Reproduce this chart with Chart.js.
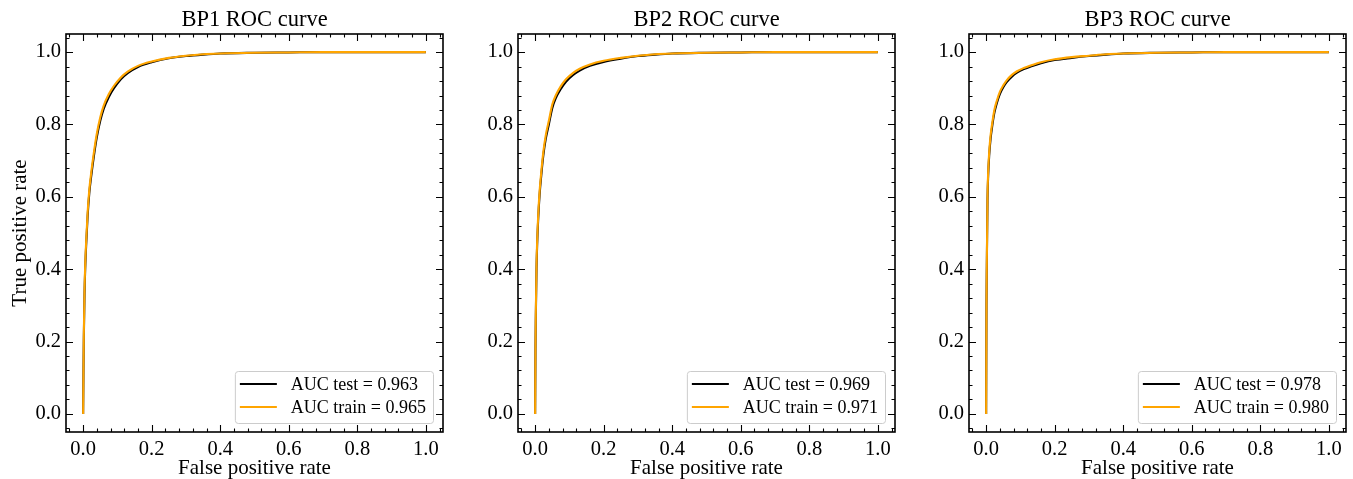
<!DOCTYPE html>
<html>
<head>
    <meta charset="UTF-8">
    <title>BP ROC curves</title>
    <script src="https://cdn.jsdelivr.net/npm/chart.js"></script>
    <style>
        html, body { margin: 0; padding: 0; background: #fff; overflow: hidden; }
        .panel { position: absolute; top: 0; width: 451px; height: 479px; }
    </style>
</head>
<body>
    <div class="panel" style="left:0px"><canvas id="bp1" width="451" height="479"></canvas></div>
    <div class="panel" style="left:452px"><canvas id="bp2" width="451" height="479"></canvas></div>
    <div class="panel" style="left:903px"><canvas id="bp3" width="451" height="479"></canvas></div>

    <script>
        const fpr = [0, 0.001, 0.002, 0.004, 0.006, 0.009, 0.013, 0.018, 0.024, 0.031, 0.04, 0.05, 0.06,
                     0.075, 0.09, 0.11, 0.13, 0.16, 0.2, 0.25, 0.3, 0.35, 0.4, 0.5, 0.6, 0.7, 0.8, 0.9, 1.0];

        // true positive rates
        const bp1Test  = [0, 0.12, 0.21, 0.33, 0.40, 0.47, 0.545, 0.61, 0.66, 0.71, 0.765, 0.81, 0.843,
                          0.876, 0.90, 0.925, 0.942, 0.959, 0.972, 0.983, 0.989, 0.993, 0.996, 0.998, 0.999, 1, 1, 1, 1];
        const bp1Train = [0, 0.12, 0.22, 0.34, 0.41, 0.48, 0.555, 0.62, 0.67, 0.72, 0.775, 0.82, 0.852,
                          0.884, 0.907, 0.93, 0.946, 0.962, 0.974, 0.984, 0.99, 0.994, 0.996, 0.998, 0.999, 1, 1, 1, 1];
        const bp2Test  = [0, 0.18, 0.27, 0.40, 0.47, 0.54, 0.605, 0.66, 0.715, 0.76, 0.80, 0.845, 0.872,
                          0.898, 0.918, 0.936, 0.949, 0.962, 0.973, 0.982, 0.989, 0.993, 0.996, 0.998, 0.999, 1, 1, 1, 1];
        const bp2Train = [0, 0.18, 0.28, 0.41, 0.48, 0.55, 0.615, 0.67, 0.725, 0.77, 0.81, 0.855, 0.88,
                          0.906, 0.925, 0.942, 0.954, 0.966, 0.976, 0.984, 0.99, 0.994, 0.996, 0.998, 0.999, 1, 1, 1, 1];
        const bp3Test  = [0, 0.30, 0.41, 0.59, 0.66, 0.715, 0.76, 0.797, 0.832, 0.858, 0.884, 0.903, 0.917,
                          0.932, 0.943, 0.953, 0.960, 0.969, 0.978, 0.984, 0.989, 0.993, 0.996, 0.998, 0.999, 1, 1, 1, 1];
        const bp3Train = [0, 0.30, 0.42, 0.60, 0.67, 0.725, 0.77, 0.805, 0.84, 0.865, 0.89, 0.908, 0.922,
                          0.937, 0.947, 0.956, 0.963, 0.972, 0.98, 0.986, 0.99, 0.994, 0.996, 0.998, 0.999, 1, 1, 1, 1];

        const panelTitles = ["BP1 ROC curve", "BP2 ROC curve", "BP3 ROC curve"];
        const aucTest  = ["0.963", "0.969", "0.978"];
        const aucTrain = ["0.965", "0.971", "0.980"];
        const tickValues = [0, 0.2, 0.4, 0.6, 0.8, 1.0];

        const FONT = '"Liberation Serif", "Times New Roman", serif';
        Chart.defaults.color = "#000";
        Chart.defaults.font.family = FONT;

        // inward ticks on all four sides + frame + legend box + title centred over the axes
        const framePlugin = {
            id: "frame",
            afterDraw(chart, args, opts) {
                const ctx = chart.ctx;
                const a = chart.chartArea;
                const sx = chart.scales.x, sy = chart.scales.y;
                ctx.save();
                ctx.strokeStyle = "#000";
                ctx.lineWidth = 1.1;
                ctx.beginPath();
                for (let k = -1; k <= 26; k++) {
                    const v = k * 0.04;
                    const len = (k % 5 === 0) ? 7 : 3.5;
                    const px = Math.round(sx.getPixelForValue(v)) + 0.5;
                    const py = Math.round(sy.getPixelForValue(v)) + 0.5;
                    ctx.moveTo(px, a.bottom); ctx.lineTo(px, a.bottom - len);
                    ctx.moveTo(px, a.top); ctx.lineTo(px, a.top + len);
                    ctx.moveTo(a.left, py); ctx.lineTo(a.left + len, py);
                    ctx.moveTo(a.right, py); ctx.lineTo(a.right - len, py);
                }
                ctx.stroke();

                // legend
                const items = chart.data.datasets;
                ctx.font = "18px " + FONT;
                const textW = Math.max(...items.map(d => ctx.measureText(d.label).width));
                const w = 56 + textW + 7, h = 52;
                const lx = a.right - 10 - w, ly = a.bottom - 9 - h;
                ctx.beginPath();
                ctx.roundRect(lx + 0.5, ly + 0.5, w, h, 3);
                ctx.fillStyle = "rgba(255,255,255,0.8)";
                ctx.fill();
                ctx.strokeStyle = "#cccccc";
                ctx.lineWidth = 1;
                ctx.stroke();
                ctx.textBaseline = "middle";
                items.forEach((d, i) => {
                    const cy = ly + 13 + i * 23;
                    ctx.beginPath();
                    ctx.strokeStyle = d.borderColor;
                    ctx.lineWidth = 2;
                    ctx.moveTo(lx + 5, cy); ctx.lineTo(lx + 42, cy);
                    ctx.stroke();
                    ctx.fillStyle = "#000";
                    ctx.fillText(d.label, lx + 56, cy + 1);
                });

                ctx.strokeStyle = "#000";
                ctx.lineWidth = 1.6;
                ctx.strokeRect(a.left, a.top, a.right - a.left, a.bottom - a.top);

                // panel title
                ctx.font = "22.5px " + FONT;
                ctx.textAlign = "center";
                ctx.textBaseline = "alphabetic";
                ctx.fillStyle = "#000";
                ctx.fillText(opts.text, (a.left + a.right) / 2, 26);
                ctx.restore();
            }
        };

        function toPoints(ys) {
            return fpr.map((x, i) => ({ x: x, y: ys[i] }));
        }

        function makePanel(id, idx, test, train, showYTitle) {
            new Chart(document.getElementById(id), {
                type: "scatter",
                data: {
                    datasets: [
                        {
                            label: "AUC test = " + aucTest[idx],
                            data: toPoints(test),
                            borderColor: "#000000",
                            order: 1
                        },
                        {
                            label: "AUC train = " + aucTrain[idx],
                            data: toPoints(train),
                            borderColor: "#ffa500",
                            order: 0
                        }
                    ]
                },
                options: {
                    responsive: false,
                    animation: false,
                    events: [],
                    showLine: true,
                    elements: {
                        point: { radius: 0 },
                        line: { borderWidth: 2.1, cubicInterpolationMode: "monotone", fill: false }
                    },
                    layout: { padding: { top: 34, right: 8 } },
                    scales: {
                        x: {
                            type: "linear",
                            min: -0.05,
                            max: 1.05,
                            afterBuildTicks: s => { s.ticks = tickValues.map(v => ({ value: v })); },
                            afterFit: s => { s.height = 47; },
                            grid: { display: false, drawTicks: false },
                            border: { display: false },
                            ticks: {
                                padding: 5,
                                maxRotation: 0,
                                font: { size: 20.5 },
                                callback: v => v.toFixed(1)
                            },
                            title: {
                                display: true,
                                text: "False positive rate",
                                font: { size: 21, lineHeight: 1 },
                                padding: { top: 0, bottom: 0 }
                            }
                        },
                        y: {
                            type: "linear",
                            min: -0.05,
                            max: 1.05,
                            afterBuildTicks: s => { s.ticks = tickValues.map(v => ({ value: v })); },
                            afterFit: s => { s.width = 66; },
                            grid: { display: false, drawTicks: false },
                            border: { display: false },
                            ticks: {
                                padding: 5,
                                font: { size: 20.5 },
                                callback: v => v.toFixed(1)
                            },
                            title: {
                                display: showYTitle,
                                text: "True positive rate",
                                font: { size: 21, lineHeight: 1 },
                                padding: { top: 9.5, bottom: 0 }
                            }
                        }
                    },
                    plugins: {
                        legend: { display: false },
                        tooltip: { enabled: false },
                        title: { display: false },
                        frame: { text: panelTitles[idx] }
                    }
                },
                plugins: [framePlugin]
            });
        }

        makePanel("bp1", 0, bp1Test, bp1Train, true);
        makePanel("bp2", 1, bp2Test, bp2Train, false);
        makePanel("bp3", 2, bp3Test, bp3Train, false);
    </script>
</body>
</html>
